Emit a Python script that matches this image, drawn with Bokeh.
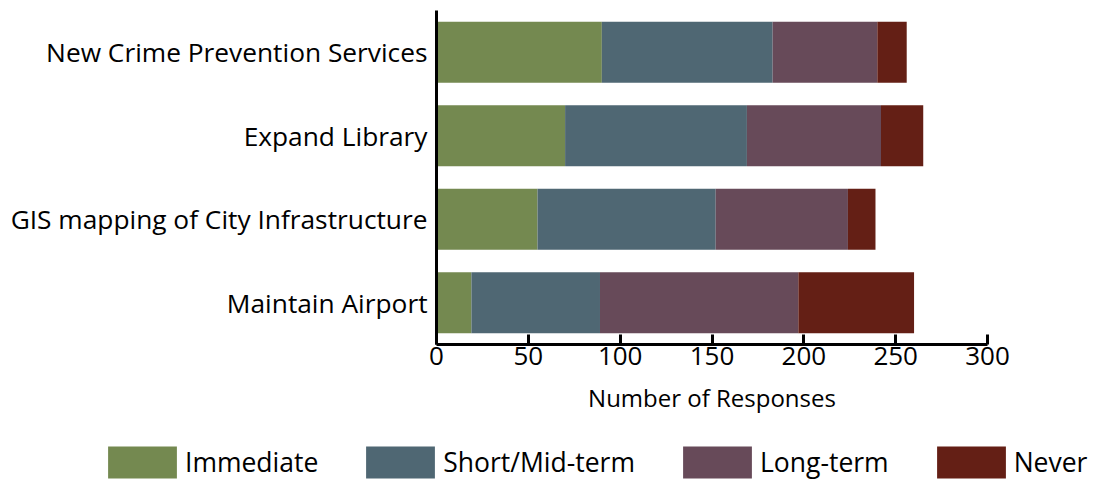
import numpy as np
from bokeh.plotting import figure
from bokeh.models import Legend, Range1d, FixedTicker
from bokeh.embed import file_html
from bokeh.resources import INLINE

categories = ["Maintain Airport", "GIS mapping of City Infrastructure", "Expand Library", "New Crime Prevention Services"]
series = ["Immediate", "Short/Mid-term", "Long-term", "Never"]
immediate = [19, 55, 70, 90]
short_mid = [70, 97, 99, 93]
long_term = [108, 72, 73, 57]
never = [63, 15, 23, 16]
colors = ["#748950", "#4F6773", "#674A59", "#641F15"]
x_ticks = [0, 50, 100, 150, 200, 250, 300]

FONT = "Open Sans"

positions = list(np.arange(len(categories)))

# frame covers the whole canvas; axes are pinned at data locations
p = figure(width=1093, height=482,
           x_range=Range1d(-237.4, 357.7), y_range=Range1d(-2.1527, 3.6198),
           output_backend="svg", toolbar_location=None, min_border=0)

data = dict(y=positions, immediate=immediate, short_mid=short_mid, long_term=long_term, never=never)
keys = ["immediate", "short_mid", "long_term", "never"]
renderers = p.hbar_stack(keys, y="y", height=0.73, color=colors, source=data, line_color=None)

p.outline_line_color = None
p.grid.grid_line_color = None

xa = p.xaxis[0]
xa.fixed_location = -0.5
xa.bounds = (x_ticks[0], x_ticks[-1])
xa.ticker = FixedTicker(ticks=x_ticks)
xa.axis_label = "Number of Responses"
xa.axis_label_text_font = FONT
xa.axis_label_text_font_size = "24px"
xa.axis_label_text_font_style = "normal"
xa.axis_label_text_color = "black"
xa.axis_label_standoff = 13
xa.major_label_text_font = FONT
xa.major_label_text_font_size = "26px"
xa.major_label_text_color = "black"
xa.major_label_standoff = 2
xa.major_tick_in = 10
xa.major_tick_out = 0
xa.minor_tick_line_color = None
xa.axis_line_width = 3
xa.major_tick_line_width = 3
xa.axis_line_color = "black"
xa.major_tick_line_color = "black"

ya = p.yaxis[0]
ya.fixed_location = 0
ya.bounds = (-0.5, len(categories) - 0.5)
ya.ticker = FixedTicker(ticks=positions)
ya.major_label_overrides = {int(i): c for i, c in zip(positions, categories)}
ya.major_label_text_font = FONT
ya.major_label_text_font_size = "26.3px"
ya.major_label_text_color = "black"
ya.major_tick_line_color = None
ya.minor_tick_line_color = None
ya.major_tick_in = 0
ya.major_tick_out = 0
ya.major_label_standoff = 9
ya.axis_line_width = 3
ya.axis_line_color = "black"

legend = Legend(items=[(s, [r]) for s, r in zip(series, renderers)],
                orientation="horizontal", location=(99, 0),
                glyph_width=86, glyph_height=40, label_standoff=0, spacing=39,
                padding=0, margin=0, border_line_color=None, background_fill_alpha=0,
                label_text_font=FONT, label_text_font_size="26.5px", label_text_color="black")
p.add_layout(legend, "center")

open("out.html", "w").write(file_html(p, INLINE))
